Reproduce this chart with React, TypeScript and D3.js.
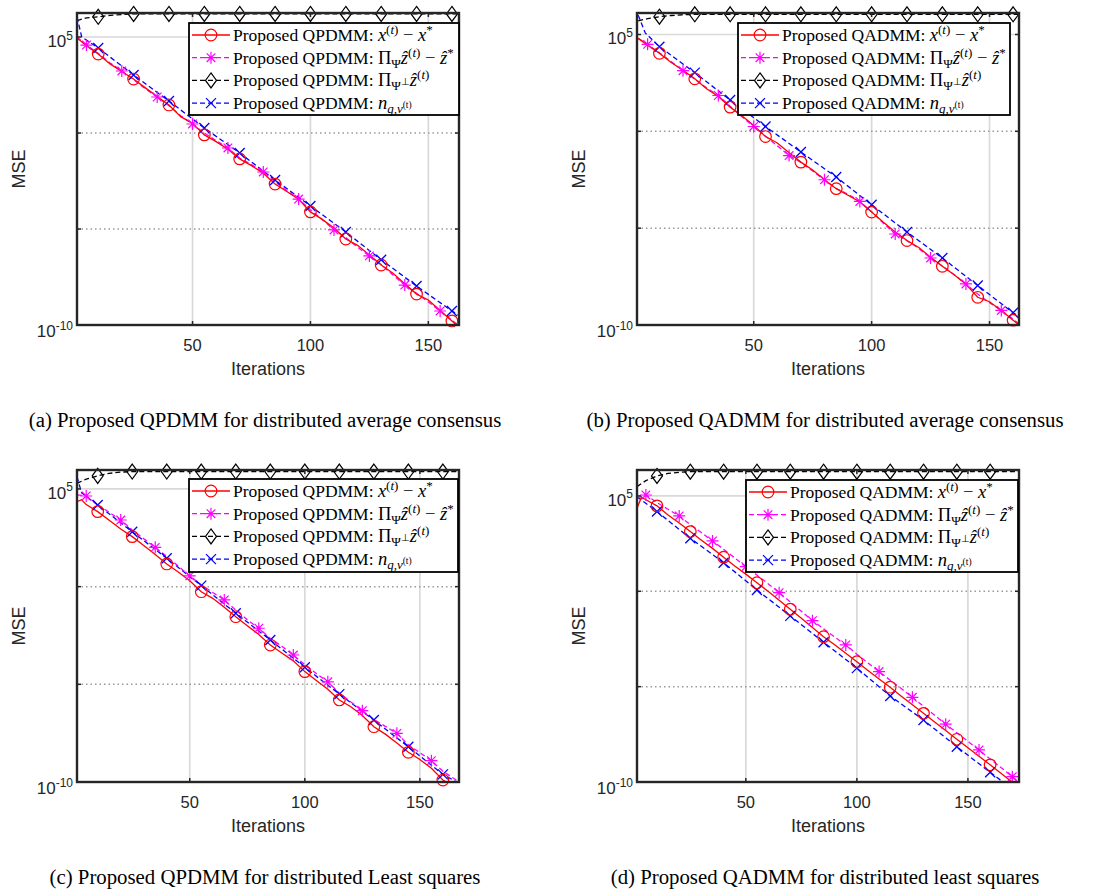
import React from 'react';
import * as d3 from 'd3';

// ---------------- data (MSE as log10 exponents) ----------------
const stepIters = [1, 5, 10, 15, 20, 25, 30, 35, 40, 45, 50, 55, 60, 65, 70, 75, 80, 85, 90, 95, 100, 105, 110, 115, 120, 125, 130, 135, 140, 145, 150, 155, 160];
const markIters = [10, 25, 40, 55, 70, 85, 100, 115, 130, 145, 160];
const starIters = [5, 20, 35, 50, 65, 80, 95, 110, 125, 140, 155];
const starItersD = [5, 20, 35, 50, 65, 80, 95, 110, 125, 140, 155, 170];

// (a) QPDMM, average consensus
const aRedIt = [...stepIters, 162];
const aRed = [4.95, 4.55, 4.11, 3.6, 3.2, 2.81, 2.35, 1.9, 1.46, 0.85, 0.5, -0.1, -0.45, -0.85, -1.35, -1.7, -2.1, -2.66, -3.05, -3.45, -4.11, -4.5, -4.95, -5.52, -5.85, -6.35, -6.875, -7.3, -7.85, -8.39, -8.7, -9.25, -9.79, -10];
const aMagIt = [...stepIters, 162];
const aMag = [5.0, 4.58, 4.15, 3.65, 3.23, 2.78, 2.3, 1.875, 1.42, 0.9, 0.47, 0.0, -0.4, -0.78, -1.3, -1.65, -2.03, -2.55, -3.0, -3.44, -4.0, -4.5, -5.05, -5.45, -5.95, -6.4, -6.85, -7.4, -7.92, -8.35, -8.8, -9.27, -9.75, -9.95];
const aBluIt = [1, 3, 10, 25, 40, 55, 70, 85, 100, 115, 130, 145, 160, 163];
const aBlu = [6.05, 5.0, 4.43, 3.02, 1.67, 0.26, -1.04, -2.45, -3.8, -5.16, -6.6, -7.97, -9.27, -9.5];
const aBlkIt = [1, 5, 10, 15, 20, 25, 40, 55, 70, 85, 100, 115, 130, 145, 160, 163];
const aBlk = [5.85, 6.0, 6.05, 6.13, 6.17, 6.2, 6.2, 6.2, 6.2, 6.2, 6.2, 6.2, 6.2, 6.2, 6.2, 6.2];

// (b) QADMM, average consensus
const bRedIt = [...stepIters, 162];
const bRed = [4.8, 4.45, 4.03, 3.55, 3.15, 2.71, 2.2, 1.8, 1.25, 0.8, 0.3, -0.27, -0.6, -1.1, -1.59, -2.0, -2.5, -2.96, -3.3, -3.65, -4.17, -4.7, -5.2, -5.64, -6.0, -6.5, -6.97, -7.4, -7.9, -8.57, -8.8, -9.25, -9.75, -9.95];
const bMagIt = [...stepIters, 162];
const bMag = [4.8, 4.49, 4.05, 3.6, 3.13, 2.7, 2.25, 1.85, 1.3, 0.75, 0.25, -0.25, -0.75, -1.25, -1.6, -2.05, -2.5, -2.95, -3.25, -3.62, -4.15, -4.75, -5.3, -5.65, -6.05, -6.54, -6.95, -7.4, -7.88, -8.4, -8.85, -9.25, -9.7, -9.9];
const bBluIt = [1, 4, 10, 25, 40, 55, 70, 85, 100, 115, 130, 145, 160, 162.5];
const bBlu = [6.0, 5.08, 4.37, 3.03, 1.62, 0.25, -1.07, -2.36, -3.79, -5.2, -6.54, -7.96, -9.37, -9.55];
const bBlkIt = [1, 5, 10, 15, 20, 25, 40, 55, 70, 85, 100, 115, 130, 145, 160, 162.5];
const bBlk = [5.7, 5.82, 5.92, 5.98, 6.02, 6.04, 6.04, 6.04, 6.04, 6.04, 6.04, 6.04, 6.04, 6.04, 6.04, 6.04];

// (c) QPDMM, least squares
const cRedIt = [1, 3, ...stepIters.slice(1), 163];
const cRed = [4.35, 4.45, 4.2, 3.84, 3.4, 2.95, 2.56, 2.1, 1.65, 1.16, 0.75, 0.3, -0.26, -0.6, -1.05, -1.54, -2.0, -2.45, -2.99, -3.4, -3.8, -4.35, -4.8, -5.25, -5.8, -6.15, -6.6, -7.17, -7.55, -8.0, -8.48, -8.85, -9.3, -9.9, -10.1];
const cMagIt = [...stepIters, 167];
const cMag = [4.7, 4.64, 4.2, 3.8, 3.41, 2.9, 2.45, 2.01, 1.55, 1.05, 0.55, 0.1, -0.3, -0.68, -1.2, -1.7, -2.13, -2.65, -3.05, -3.5, -4.0, -4.45, -4.87, -5.45, -5.9, -6.35, -6.8, -7.15, -7.51, -8.1, -8.5, -8.91, -9.45, -10.0];
const cBluIt = [1, 3, 10, 25, 40, 55, 70, 85, 100, 115, 130, 145, 160, 166];
const cBlu = [5.63, 4.8, 4.18, 2.81, 1.45, 0.05, -1.36, -2.73, -4.13, -5.5, -6.83, -8.2, -9.61, -10.0];
const cBlkIt = [1, 5, 10, 15, 20, 25, 40, 55, 70, 85, 100, 115, 130, 145, 160, 167];
const cBlk = [5.29, 5.5, 5.67, 5.8, 5.86, 5.89, 5.89, 5.89, 5.89, 5.89, 5.89, 5.89, 5.89, 5.89, 5.89, 5.89];

// (d) QADMM, least squares
const dRedIt = [1, 3, ...stepIters.slice(1), 165, 172];
const dRed = [4.35, 4.93, 4.8, 4.48, 4.0, 3.58, 3.13, 2.68, 2.25, 1.79, 1.33, 0.9, 0.45, 0.0, -0.47, -0.94, -1.42, -1.9, -2.38, -2.8, -3.25, -3.69, -4.15, -4.6, -5.03, -5.5, -5.95, -6.4, -6.85, -7.3, -7.76, -8.2, -8.65, -9.1, -9.55, -10.2];
const dMagIt = [...stepIters, 165, 170, 173];
const dMag = [4.9, 5.05, 4.65, 4.3, 3.95, 3.5, 3.08, 2.64, 2.2, 1.75, 1.29, 0.85, 0.4, -0.07, -0.56, -1.05, -1.54, -1.97, -2.4, -2.81, -3.3, -3.76, -4.21, -4.66, -5.1, -5.56, -6.03, -6.5, -6.97, -7.42, -7.87, -8.32, -8.8, -9.25, -9.72, -10.0];
const dBluIt = [1, 10, 25, 40, 55, 70, 85, 100, 115, 130, 145, 160, 168];
const dBlu = [4.96, 4.18, 2.78, 1.5, 0.07, -1.29, -2.67, -4.03, -5.49, -6.75, -8.15, -9.49, -10.2];
const dBlkIt = [1, 5, 10, 15, 20, 25, 40, 55, 70, 85, 100, 115, 130, 145, 160, 173];
const dBlk = [5.49, 5.8, 6.05, 6.18, 6.24, 6.27, 6.27, 6.27, 6.27, 6.27, 6.27, 6.27, 6.27, 6.27, 6.27, 6.27];

const xTicks = [50, 100, 150];
const yMajorTicks = [1e5, 1e-10];
const yMinorTicks = [1e0, 1e-5];
const yTickLabels = [{ base: '10', exp: '5' }, { base: '10', exp: '-10' }];

const captions = [
  '(a) Proposed QPDMM for distributed average consensus',
  '(b) Proposed QADMM for distributed average consensus',
  '(c) Proposed QPDMM for distributed Least squares',
  '(d) Proposed QADMM for distributed least squares',
];
const methods = ['QPDMM', 'QADMM', 'QPDMM', 'QADMM'];

// ---------------- layout / style ----------------
const SANS = '"Liberation Sans", Arial, Helvetica, sans-serif';
const SERIF = '"Liberation Serif", "Times New Roman", Times, serif';
const AX = '#262626';

type Series = { it: number[]; v: number[] };
type PanelCfg = {
  id: string;
  box: { l: number; r: number; t: number; b: number };
  xDom: [number, number];
  yTopExp: number;
  legend: { x: number; y: number; w: number; h: number };
  red: Series; mag: Series; blu: Series; blk: Series;
  stars: number[];
  capY: number;
};

const panels: PanelCfg[] = [
  { id: 'a', box: { l: 77, r: 459, t: 13, b: 325 }, xDom: [1, 163], yTopExp: 6.25, legend: { x: 189, y: 23, w: 270, h: 92 },
    red: { it: aRedIt, v: aRed }, mag: { it: aMagIt, v: aMag }, blu: { it: aBluIt, v: aBlu }, blk: { it: aBlkIt, v: aBlk }, stars: starIters, capY: 427 },
  { id: 'b', box: { l: 637, r: 1019, t: 13, b: 325 }, xDom: [0.5, 162.5], yTopExp: 6.11, legend: { x: 738, y: 23, w: 272, h: 92 },
    red: { it: bRedIt, v: bRed }, mag: { it: bMagIt, v: bMag }, blu: { it: bBluIt, v: bBlu }, blk: { it: bBlkIt, v: bBlk }, stars: starIters, capY: 427 },
  { id: 'c', box: { l: 77, r: 459, t: 470, b: 782 }, xDom: [1, 167], yTopExp: 5.97, legend: { x: 189, y: 479, w: 269, h: 93 },
    red: { it: cRedIt, v: cRed }, mag: { it: cMagIt, v: cMag }, blu: { it: cBluIt, v: cBlu }, blk: { it: cBlkIt, v: cBlk }, stars: starIters, capY: 884 },
  { id: 'd', box: { l: 637, r: 1019, t: 470, b: 782 }, xDom: [1, 173], yTopExp: 6.36, legend: { x: 746, y: 480, w: 272, h: 92 },
    red: { it: dRedIt, v: dRed }, mag: { it: dMagIt, v: dMag }, blu: { it: dBluIt, v: dBlu }, blk: { it: dBlkIt, v: dBlk }, stars: starItersD, capY: 884 },
];

const STAR = 'M-6,0H6M0,-6V6M-4.3,-4.3L4.3,4.3M-4.3,4.3L4.3,-4.3';
const CROSS = 'M-5,-5L5,5M-5,5L5,-5';
const DIAMOND = 'M0,-7.5L5.5,0L0,7.5L-5.5,0Z';

function Marker({ kind, x, y }: { kind: string; x: number; y: number }) {
  if (kind === 'circle') return <circle cx={x} cy={y} r={5.8} fill="none" stroke="#ff0000" strokeWidth={1.2} />;
  if (kind === 'star') return <path d={STAR} transform={`translate(${x},${y})`} fill="none" stroke="#ff00ff" strokeWidth={1.2} />;
  if (kind === 'cross') return <path d={CROSS} transform={`translate(${x},${y})`} fill="none" stroke="#0000ff" strokeWidth={1.3} />;
  return <path d={DIAMOND} transform={`translate(${x},${y})`} fill="none" stroke="#000" strokeWidth={1.2} />;
}

// ---- math-ish legend text ----
type Seg = { t: string; it?: boolean; lvl?: number; pre?: boolean };
const LVL_SHIFT: Record<number, number> = { 0: 0, 1: -7, [-1]: 4, 2: -1 };
const LVL_SIZE: Record<number, number> = { 0: 18.5, 1: 13, [-1]: 13, 2: 9.5 };

function MathText({ x, y, segs }: { x: number; y: number; segs: Seg[] }) {
  let cur = 0;
  return (
    <text x={x} y={y} fontFamily={SERIF} fill="#000" fontSize={17.5}>
      {segs.map((s, i) => {
        const lvl = s.lvl ?? 0;
        const target = LVL_SHIFT[lvl];
        const dy = target - cur;
        cur = target;
        return (
          <tspan key={i} dy={dy} fontSize={s.pre ? 17.5 : LVL_SIZE[lvl]} fontStyle={s.it ? 'italic' : 'normal'}>{s.t}</tspan>
        );
      })}
    </text>
  );
}

function legendRows(method: string): Seg[][] {
  const p = { t: `Proposed ${method}: `, pre: true };
  return [
    [p, { t: 'x', it: true }, { t: '(', lvl: 1 }, { t: 't', it: true, lvl: 1 }, { t: ')', lvl: 1 }, { t: ' − ' }, { t: 'x', it: true }, { t: '*', lvl: 1 }],
    [p, { t: 'Π' }, { t: 'Ψ', lvl: -1 }, { t: 'ẑ', it: true }, { t: '(', lvl: 1 }, { t: 't', it: true, lvl: 1 }, { t: ')', lvl: 1 }, { t: ' − ' }, { t: 'ẑ', it: true }, { t: '*', lvl: 1 }],
    [p, { t: 'Π' }, { t: 'Ψ', lvl: -1 }, { t: '⊥', lvl: 2 }, { t: 'ẑ', it: true }, { t: '(', lvl: 1 }, { t: 't', it: true, lvl: 1 }, { t: ')', lvl: 1 }],
    [p, { t: 'n', it: true }, { t: 'q,v', it: true, lvl: -1 }, { t: '(t)', lvl: 2 }],
  ];
}

function Panel({ p, idx }: { p: PanelCfg; idx: number }) {
  const { l, r, t, b } = p.box;
  const x = d3.scaleLinear().domain(p.xDom).range([l, r]);
  const y = d3.scaleLog().domain([1e-10, Math.pow(10, p.yTopExp)]).range([b, t]);
  const line = d3.line<[number, number]>().x((d) => x(d[0])).y((d) => y(Math.pow(10, d[1])));
  const pts = (s: Series) => s.it.map((it, i) => [it, s.v[i]] as [number, number]);
  const at = (s: Series, iters: number[]) =>
    iters.map((it) => {
      const i = s.it.indexOf(it);
      return i < 0 ? null : { px: x(it), py: y(Math.pow(10, s.v[i])) };
    }).filter(Boolean) as { px: number; py: number }[];
  const clipId = `clip-${p.id}`;
  const lg = p.legend;
  const rows = legendRows(methods[idx]);
  const rowKinds = [
    { kind: 'circle', color: '#ff0000', dash: undefined },
    { kind: 'star', color: '#ff00ff', dash: '5,3' },
    { kind: 'diamond', color: '#000000', dash: '5,3' },
    { kind: 'cross', color: '#0000ff', dash: '5,3' },
  ];
  const seriesDefs = [
    { s: p.blk, color: '#000000', dash: '5,3', kind: 'diamond', iters: markIters },
    { s: p.blu, color: '#0000ff', dash: '5,3', kind: 'cross', iters: markIters },
    { s: p.mag, color: '#ff00ff', dash: '5,3', kind: 'star', iters: p.stars },
    { s: p.red, color: '#ff0000', dash: undefined, kind: 'circle', iters: markIters },
  ];
  return (
    <g>
      <defs>
        <clipPath id={clipId}>
          <rect x={l} y={t} width={r - l} height={b - t} />
        </clipPath>
      </defs>
      <rect x={l} y={t} width={r - l} height={b - t} fill="#fff" />
      {/* grid */}
      {xTicks.map((v) => (
        <line key={`gx${v}`} x1={x(v)} x2={x(v)} y1={t} y2={b} stroke="#d9d9d9" strokeWidth={1.7} />
      ))}
      <line x1={l} x2={r} y1={y(1e5)} y2={y(1e5)} stroke="#d9d9d9" strokeWidth={1.7} />
      {yMinorTicks.map((v) => (
        <line key={`gy${v}`} x1={l} x2={r} y1={y(v)} y2={y(v)} stroke="#9a9a9a" strokeWidth={1.5} strokeDasharray="1.5,3" />
      ))}
      {/* series */}
      <g clipPath={`url(#${clipId})`}>
        {seriesDefs.map((sd, i) => (
          <path key={i} d={line(pts(sd.s)) || ''} fill="none" stroke={sd.color} strokeWidth={1.3} strokeDasharray={sd.dash} />
        ))}
      </g>
      {seriesDefs.map((sd, i) => (
        <g key={`m${i}`}>
          {at(sd.s, sd.iters).map((m, j) => (
            <Marker key={j} kind={sd.kind} x={m.px} y={m.py} />
          ))}
        </g>
      ))}
      {/* axes box */}
      <rect x={l} y={t} width={r - l} height={b - t} fill="none" stroke={AX} strokeWidth={2.4} />
      {xTicks.map((v) => (
        <g key={`tx${v}`}>
          <line x1={x(v)} x2={x(v)} y1={b} y2={b - 4} stroke={AX} strokeWidth={1.5} />
          <line x1={x(v)} x2={x(v)} y1={t} y2={t + 4} stroke={AX} strokeWidth={1.5} />
          <text x={x(v)} y={b + 26} textAnchor="middle" fontFamily={SANS} fontSize={16.5} fill={AX}>{v}</text>
        </g>
      ))}
      {[...yMajorTicks, ...yMinorTicks].map((v) => (
        <g key={`ty${v}`}>
          <line x1={l} x2={l + 4} y1={y(v)} y2={y(v)} stroke={AX} strokeWidth={1.5} />
          <line x1={r} x2={r - 4} y1={y(v)} y2={y(v)} stroke={AX} strokeWidth={1.5} />
        </g>
      ))}
      {yMajorTicks.map((v, i) => (
        <text key={`yl${v}`} x={l - 4} y={y(v) + (i === 0 ? 10 : 12)} textAnchor="end" fontFamily={SANS} fontSize={17} fill={AX}>
          {yTickLabels[i].base}
          <tspan dy={-7.5} fontSize={12}>{yTickLabels[i].exp}</tspan>
        </text>
      ))}
      <text x={(l + r) / 2} y={b + 50} textAnchor="middle" fontFamily={SANS} fontSize={18} fill={AX}>Iterations</text>
      <text transform={`translate(${l - 52},${(t + b) / 2}) rotate(-90)`} textAnchor="middle" fontFamily={SANS} fontSize={18} fill={AX}>MSE</text>
      {/* legend */}
      <rect x={lg.x} y={lg.y} width={lg.w} height={lg.h} fill="#fff" stroke="#000" strokeWidth={1.8} />
      {rows.map((segs, i) => {
        const ry = lg.y + 12 + i * 22.7;
        const rk = rowKinds[i];
        return (
          <g key={`lr${i}`}>
            <line x1={lg.x + 3} x2={lg.x + 41} y1={ry} y2={ry} stroke={rk.color} strokeWidth={1.3} strokeDasharray={rk.dash} />
            <Marker kind={rk.kind} x={lg.x + 22} y={ry} />
            <MathText x={lg.x + 44} y={ry + 6} segs={segs} />
          </g>
        );
      })}
      {/* caption */}
      <text x={(l + r) / 2 - 3} y={p.capY} textAnchor="middle" fontFamily={SERIF} fontSize={20.8} fill="#000">{captions[idx]}</text>
    </g>
  );
}

export default function App() {
  return (
    <svg width={1107} height={893} style={{ position: 'absolute', left: 0, top: 0, background: '#fff' }}>
      <rect width={1107} height={893} fill="#fff" />
      {panels.map((p, i) => (
        <Panel key={p.id} p={p} idx={i} />
      ))}
    </svg>
  );
}
